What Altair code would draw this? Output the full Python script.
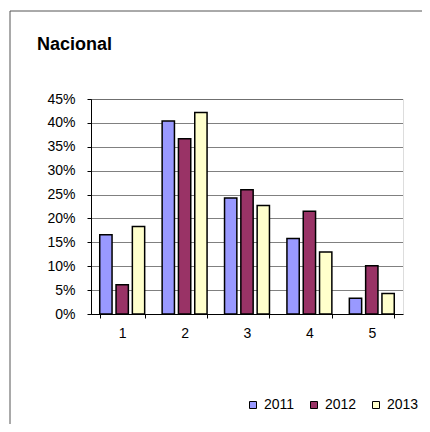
import altair as alt
import pandas as pd

categories = ["1", "2", "3", "4", "5"]
years = ["2011", "2012", "2013"]
v2011 = [0.166, 0.404, 0.243, 0.158, 0.033]
v2012 = [0.061, 0.367, 0.260, 0.215, 0.101]
v2013 = [0.183, 0.422, 0.227, 0.130, 0.043]
colors = ["#9999FF", "#993366", "#FFFFCC"]
y_ticks = [0, 0.05, 0.10, 0.15, 0.20, 0.25, 0.30, 0.35, 0.40, 0.45]

rows = []
for yr, vals in zip(years, [v2011, v2012, v2013]):
    for c, v in zip(categories, vals):
        rows.append({"cat": c, "year": yr, "value": v})
df = pd.DataFrame(rows)

FONT = "Liberation Sans"

bars = alt.Chart(df).mark_bar(stroke="black", strokeWidth=1.5).encode(
    x=alt.X("cat:N", sort=categories, title=None,
            scale=alt.Scale(paddingInner=0.28, paddingOuter=0.14),
            axis=alt.Axis(labelAngle=0, tickBand="extent", domainColor="black",
                          tickColor="black", tickSize=4, labelPadding=8,
                          labelFontSize=14, labelFont=FONT, labelColor="black",
                          grid=False)),
    xOffset=alt.XOffset("year:N", sort=years,
                        scale=alt.Scale(paddingInner=0.245, paddingOuter=0)),
    y=alt.Y("value:Q", title=None,
            scale=alt.Scale(domain=[0, 0.45], nice=False),
            axis=alt.Axis(values=y_ticks, format=".0%", domainColor="black",
                          tickColor="black", tickSize=4, labelPadding=12,
                          labelFontSize=14, labelFont=FONT, labelColor="black",
                          grid=True, gridColor="black", gridDash=[1, 1],
                          gridWidth=1)),
    color=alt.Color("year:N", sort=years,
                    scale=alt.Scale(domain=years, range=colors),
                    legend=alt.Legend(title=None, orient="none", direction="horizontal",
                                      legendX=155, legendY=299,
                                      symbolType="square", symbolSize=49,
                                      symbolStrokeColor="black", symbolStrokeWidth=1,
                                      labelFontSize=14, labelFont=FONT,
                                      labelColor="black", labelOffset=4,
                                      columnPadding=12)),
)

frame = alt.Chart(pd.DataFrame({"a": [0]})).mark_rect(
    fill=None, stroke="#555555", strokeWidth=1, clip=False
).encode(
    x=alt.value(-81), x2=alt.value(360), y=alt.value(-88), y2=alt.value(360)
)

title = alt.Chart(pd.DataFrame({"t": ["Nacional"]})).mark_text(
    align="left", baseline="alphabetic", fontWeight="bold", fontSize=18,
    font=FONT, color="black"
).encode(text="t:N", x=alt.value(-54), y=alt.value(-49))

chart = alt.layer(frame, bars, title).properties(
    width=312, height=215,
    autosize=alt.AutoSizeParams(type="none"),
    padding={"left": 83, "top": 91, "right": 19, "bottom": 110},
).configure_view(stroke="#808080", strokeWidth=1.5).configure(background="white")

chart.save("out.html", embed_options={"renderer": "svg", "actions": False})
